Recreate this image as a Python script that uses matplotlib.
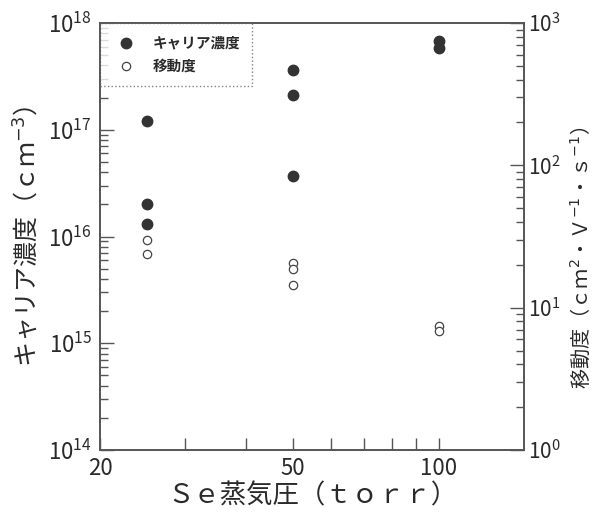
import matplotlib
matplotlib.use("Agg")
import matplotlib.pyplot as plt
from matplotlib.ticker import LogLocator, NullFormatter, FixedLocator, FixedFormatter
from matplotlib.lines import Line2D

plt.rcParams['font.family'] = ['Noto Sans CJK JP', 'DejaVu Sans']
plt.rcParams['mathtext.fontset'] = 'dejavusans'

# キャリア濃度 (cm^-3) vs Se vapour pressure (torr)
carrier_x = [25, 25, 25, 50, 50, 50, 100, 100]
carrier_y = [1.2e17, 2.0e16, 1.3e16, 3.6e17, 2.1e17, 3.7e16, 6.8e17, 5.8e17]

# 移動度 (cm^2/V/s)
mobility_x = [25, 25, 50, 50, 50, 100, 100]
mobility_y = [30.0, 24.0, 20.7, 18.7, 14.4, 7.4, 6.9]

x_ticks = [20, 50, 100]
x_minor = [30, 40, 60, 70, 80, 90]

ink = '#2a2a2a'
spine = '#555555'

fig = plt.figure(figsize=(5.96, 5.17), dpi=100)
ax = fig.add_axes([0.168, 0.1296, 0.711, 0.8259])
ax2 = ax.twinx()

ax.set_xscale('log')
ax.set_yscale('log')
ax2.set_yscale('log')
ax.set_xlim(20, 150)
ax.set_ylim(1e14, 1e18)
ax2.set_ylim(1, 1e3)

ax.plot(carrier_x, carrier_y, 'o', ms=7.5, color='#333333', mec='#333333', zorder=3)
ax2.plot(mobility_x, mobility_y, 'o', ms=6, mfc='white', mec='#444444', mew=0.9, zorder=3)

ax.xaxis.set_major_locator(FixedLocator(x_ticks))
ax.xaxis.set_major_formatter(FixedFormatter([str(v) for v in x_ticks]))
ax.xaxis.set_minor_locator(FixedLocator(x_minor))
ax.xaxis.set_minor_formatter(NullFormatter())

for a in (ax, ax2):
    a.yaxis.set_major_locator(LogLocator(base=10, numticks=10))
    a.yaxis.set_minor_locator(LogLocator(base=10, subs=range(2, 10), numticks=10))
    a.yaxis.set_minor_formatter(NullFormatter())
    for s in a.spines.values():
        s.set_color(spine)
        s.set_linewidth(1.2)

ax.tick_params(axis='both', which='both', direction='in', colors=spine,
               labelcolor=ink, labelsize=16, top=False, right=False)
ax.tick_params(axis='x', which='both', length=9, width=1.0, pad=5)
ax.tick_params(axis='y', which='major', length=10, width=1.0, pad=6)
ax.tick_params(axis='y', which='minor', length=6, width=1.0)
ax2.tick_params(axis='y', which='both', direction='in', colors=spine,
                labelcolor=ink, labelsize=15, pad=3)
ax2.tick_params(axis='y', which='major', length=10, width=1.0)
ax2.tick_params(axis='y', which='minor', length=6, width=1.0)

ax.set_xlabel('Ｓｅ蒸気圧（ｔｏｒｒ）', fontsize=19, color=ink, labelpad=2)
ax.set_ylabel('キャリア濃度（ｃｍ$^{-3}$）', fontsize=18, color=ink, labelpad=4)
ax2.set_ylabel('移動度（ｃｍ$^{2}$・Ｖ$^{-1}$・ｓ$^{-1}$）', fontsize=14.5, color=ink,
               rotation=90, va='center', ha='center')
ax2.yaxis.set_label_coords(1.135, 0.45)

handles = [
    Line2D([], [], marker='o', ls='none', ms=7.5, color='#333333'),
    Line2D([], [], marker='o', ls='none', ms=6, mfc='white', mec='#444444', mew=0.9),
]
leg = ax.legend(handles, ['キャリア濃度', '移動度'], loc='upper left',
                fontsize=10.5, frameon=True, fancybox=False, borderaxespad=0,
                handletextpad=0.8, borderpad=0.8, labelspacing=0.5)
leg.get_frame().set_linestyle(':')
leg.get_frame().set_edgecolor('#666666')
leg.get_frame().set_linewidth(1.0)
for t in leg.get_texts():
    t.set_color(ink)
    t.set_fontweight('bold')

fig.savefig('out.png', dpi=100, facecolor='white')
